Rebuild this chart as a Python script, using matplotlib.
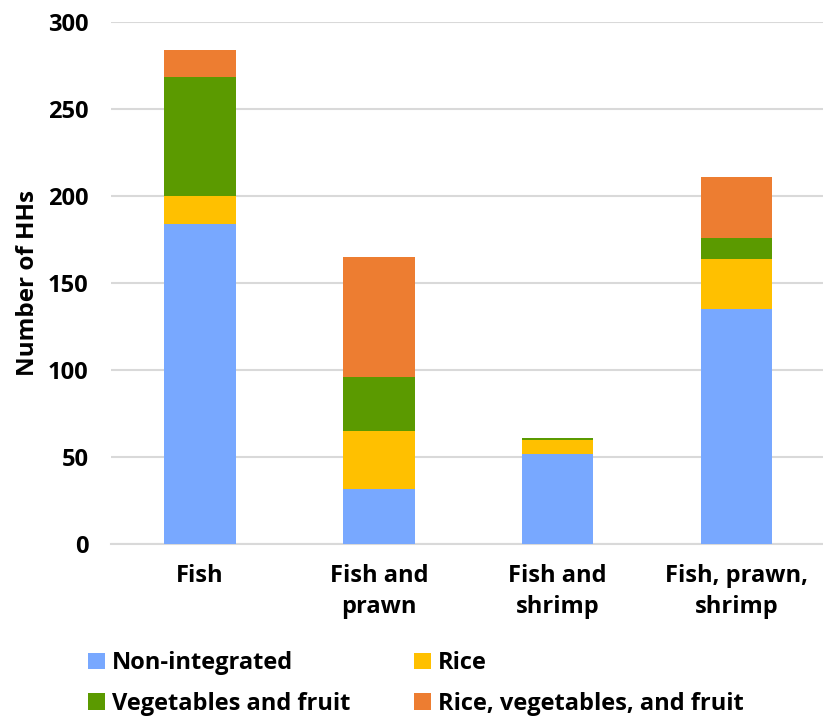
import matplotlib.pyplot as plt
import numpy as np

# household counts by culture system and integration type
systems = ["Fish", "Fish and\nprawn", "Fish and\nshrimp", "Fish, prawn,\nshrimp"]
non_integrated = [184, 32, 52, 135]
rice = [16, 33, 8, 29]
veg_fruit = [68, 31, 1, 12]
rice_veg_fruit = [16, 69, 0, 35]

series = [
    ("Non-integrated", non_integrated, "#78A8FF"),
    ("Rice", rice, "#FFC000"),
    ("Vegetables and fruit", veg_fruit, "#5B9A00"),
    ("Rice, vegetables, and fruit", rice_veg_fruit, "#ED7D31"),
]

plt.rcParams["font.family"] = ["Open Sans", "DejaVu Sans"]
plt.rcParams["font.weight"] = "bold"

fig = plt.figure(figsize=(8.23, 7.17), dpi=100)
ax = fig.add_axes([0.1345, 0.2406, 0.8655, 0.7291])

x = np.arange(len(systems))
bottom = np.zeros(len(systems))
bars = {}
for name, vals, color in series:
    bars[name] = ax.bar(x, vals, width=0.4, bottom=bottom, color=color, label=name, zorder=3)
    bottom += np.array(vals)

ax.set_ylim(0, 300)
ax.set_xlim(-0.5, 3.484)
ax.set_yticks(range(0, 301, 50))
ax.set_yticklabels([str(v) for v in range(0, 301, 50)], fontsize=17, fontweight="bold")
ax.set_xticks(x)
ax.set_xticklabels(systems, fontsize=17, fontweight="bold", linespacing=1.4)
ax.tick_params(axis="y", length=0, pad=16)
ax.tick_params(axis="x", length=0, pad=14)
ax.grid(axis="y", color="#D9D9D9", linewidth=1.5, zorder=0)
for s in ["top", "right", "left"]:
    ax.spines[s].set_visible(False)
ax.spines["bottom"].set_color("#D9D9D9")
ax.spines["bottom"].set_linewidth(1.5)
ax.set_ylabel("Number of HHs", fontsize=17.5, fontweight="bold", labelpad=6)

# legend laid out row by row: left column then right column
order = ["Non-integrated", "Vegetables and fruit", "Rice", "Rice, vegetables, and fruit"]
fig.legend([bars[n] for n in order], order, ncol=2, loc="upper left",
           bbox_to_anchor=(0.096, 0.105), frameon=False,
           prop={"size": 17, "weight": "bold"},
           handlelength=0.7, handleheight=0.7, handletextpad=0.3,
           columnspacing=2.7, labelspacing=0.7, borderaxespad=0)

fig.savefig("out.png", dpi=100)
